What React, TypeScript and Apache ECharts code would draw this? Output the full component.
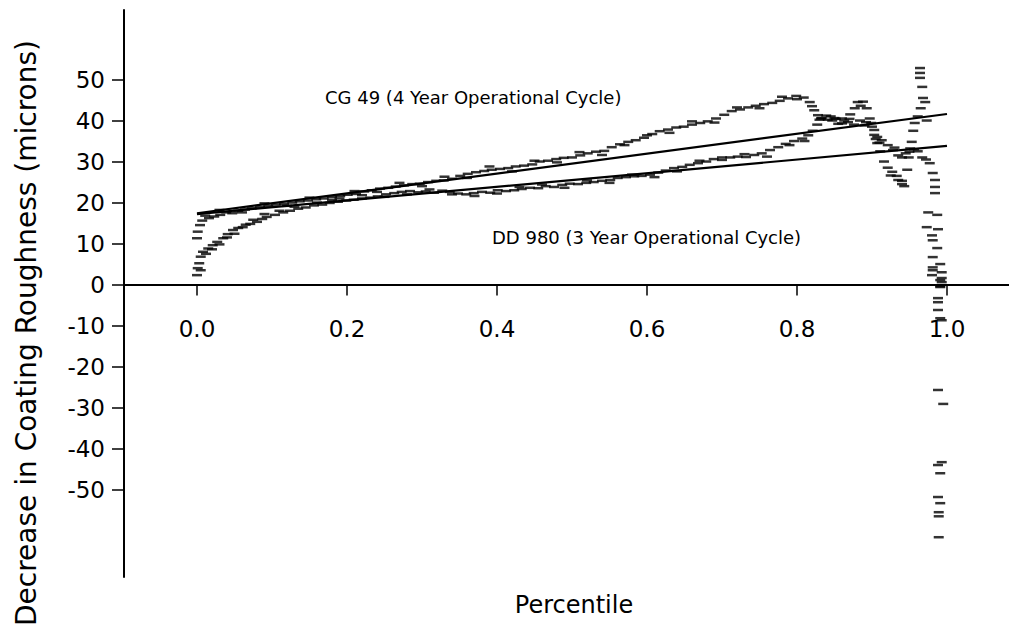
import React, { useEffect, useRef } from "react";
import * as echarts from "echarts";

// Percentile, decrease in roughness (microns)
const CG49_POINTS: [number, number][] = [
  [0.0, 11.3], [0.001, 12.9], [0.004, 14.5], [0.007, 15.6], [0.011, 16.8], [0.016, 16.2],
  [0.023, 16.6], [0.031, 17.0], [0.039, 17.6], [0.047, 17.4], [0.055, 18.0], [0.064, 18.3],
  [0.073, 18.6], [0.084, 18.9], [0.095, 19.2], [0.105, 19.5], [0.116, 19.7], [0.127, 20.0],
  [0.137, 20.3], [0.148, 20.5], [0.159, 20.8], [0.169, 21.0], [0.18, 21.3], [0.191, 21.6],
  [0.201, 21.9], [0.212, 22.1], [0.223, 22.7], [0.233, 23.0], [0.244, 23.4], [0.255, 23.6],
  [0.265, 23.9], [0.276, 24.2], [0.287, 24.5], [0.297, 24.6], [0.308, 25.0], [0.319, 25.3],
  [0.329, 25.4], [0.34, 25.8], [0.351, 26.5], [0.361, 27.0], [0.372, 27.4], [0.383, 27.7],
  [0.393, 28.0], [0.404, 28.2], [0.415, 28.4], [0.425, 28.8], [0.436, 29.0], [0.447, 29.3],
  [0.457, 30.0], [0.468, 30.2], [0.479, 30.6], [0.489, 30.9], [0.5, 31.0], [0.511, 31.5],
  [0.521, 32.0], [0.532, 32.4], [0.543, 32.6], [0.553, 33.5], [0.564, 34.2], [0.575, 34.8],
  [0.585, 35.2], [0.596, 35.8], [0.607, 36.7], [0.617, 37.4], [0.628, 37.8], [0.639, 38.3],
  [0.649, 38.5], [0.66, 39.0], [0.671, 39.4], [0.681, 39.8], [0.692, 40.5], [0.703, 41.4],
  [0.713, 42.3], [0.724, 42.7], [0.735, 43.2], [0.745, 43.6], [0.756, 44.0], [0.767, 44.3],
  [0.777, 44.8], [0.788, 45.4], [0.799, 46.0], [0.809, 45.6], [0.817, 44.5], [0.823, 42.5],
  [0.828, 41.3], [0.833, 40.6], [0.841, 40.2], [0.852, 40.4], [0.863, 40.0], [0.871, 41.5],
  [0.877, 43.0], [0.881, 44.5], [0.888, 44.6], [0.893, 43.0], [0.897, 40.5], [0.9, 38.5],
  [0.903, 36.5], [0.907, 34.5], [0.911, 32.5], [0.916, 30.0], [0.921, 28.5], [0.927, 27.5],
  [0.933, 26.5], [0.94, 25.3], [0.943, 24.0], [0.947, 28.0], [0.949, 31.0], [0.953, 34.8],
  [0.955, 37.5], [0.957, 39.4], [0.961, 41.0], [0.965, 43.0], [0.968, 45.5], [0.967, 48.2],
  [0.964, 50.4], [0.964, 51.6], [0.964, 52.8], [0.971, 44.5], [0.973, 40.0], [0.977, 29.6],
  [0.981, 27.2], [0.984, 25.5], [0.984, 23.8], [0.984, 22.3],
];

// second row of dashes read along the CG 49 band
const CG49_SPREAD: [number, number][] = [
  [0.03, 18.2], [0.06, 17.6], [0.09, 19.8], [0.12, 19.2], [0.15, 21.2], [0.18, 20.6],
  [0.21, 22.8], [0.24, 22.6], [0.27, 24.8], [0.3, 24.0], [0.33, 26.3], [0.36, 26.0],
  [0.39, 28.8], [0.42, 27.6], [0.45, 30.2], [0.48, 29.8], [0.51, 32.3], [0.54, 31.6],
  [0.57, 34.0], [0.6, 36.4], [0.63, 37.0], [0.66, 39.8], [0.69, 39.5], [0.72, 43.2],
  [0.75, 43.0], [0.78, 45.8], [0.8, 45.2], [0.82, 43.5], [0.845, 41.0], [0.86, 39.3],
  [0.885, 43.6], [0.905, 35.5], [0.925, 26.6], [0.935, 25.5], [0.94, 24.5],
];

const DD980_POINTS: [number, number][] = [
  [0.0, 2.3], [0.001, 4.0], [0.003, 5.2], [0.005, 6.8], [0.008, 8.0], [0.015, 8.8],
  [0.021, 9.6], [0.027, 10.4], [0.035, 11.3], [0.041, 12.3], [0.048, 13.3], [0.055, 13.8],
  [0.061, 14.0], [0.071, 14.8], [0.08, 15.3], [0.087, 16.0], [0.093, 16.5], [0.104, 17.0],
  [0.115, 17.6], [0.124, 18.0], [0.135, 18.5], [0.145, 18.8], [0.156, 19.3], [0.167, 19.5],
  [0.177, 19.9], [0.188, 20.2], [0.199, 20.5], [0.209, 20.7], [0.22, 21.0], [0.231, 21.2],
  [0.241, 21.5], [0.252, 22.0], [0.263, 22.3], [0.273, 22.6], [0.284, 22.8], [0.295, 22.5],
  [0.305, 22.7], [0.316, 22.4], [0.327, 22.9], [0.337, 22.6], [0.348, 22.2], [0.359, 22.0],
  [0.369, 22.3], [0.38, 22.6], [0.391, 22.4], [0.401, 23.0], [0.412, 22.8], [0.423, 23.0],
  [0.433, 23.3], [0.444, 23.6], [0.455, 23.5], [0.465, 24.0], [0.476, 23.8], [0.487, 24.3],
  [0.497, 24.6], [0.508, 24.5], [0.519, 24.8], [0.529, 25.0], [0.54, 25.3], [0.551, 25.5],
  [0.561, 26.0], [0.572, 26.2], [0.583, 26.4], [0.593, 26.5], [0.604, 26.8], [0.615, 27.3],
  [0.625, 27.8], [0.636, 28.4], [0.647, 28.7], [0.657, 29.2], [0.668, 29.6], [0.679, 30.0],
  [0.689, 30.6], [0.7, 31.0], [0.711, 31.0], [0.721, 31.2], [0.732, 31.1], [0.743, 31.6],
  [0.753, 32.0], [0.764, 32.8], [0.775, 33.5], [0.785, 34.3], [0.796, 35.0], [0.807, 35.6],
  [0.815, 36.4], [0.821, 37.5], [0.827, 39.0], [0.832, 40.5], [0.839, 41.2], [0.847, 40.0],
  [0.855, 39.2], [0.86, 40.5], [0.868, 39.6], [0.876, 39.0], [0.884, 40.0], [0.892, 39.6],
  [0.899, 39.4], [0.903, 37.7], [0.907, 36.0], [0.913, 35.2], [0.921, 34.0], [0.928, 32.8],
  [0.935, 31.5], [0.94, 31.0], [0.945, 32.0], [0.951, 33.2], [0.956, 33.0], [0.961, 32.5],
  [0.967, 31.0], [0.972, 30.5], [0.975, 17.6], [0.987, 17.0], [0.973, 14.0], [0.988, 13.5],
  [0.98, 12.0], [0.981, 10.8], [0.987, 8.9], [0.981, 6.7], [0.991, 5.0], [0.981, 3.5],
  [0.991, 1.1], [0.991, -0.6], [0.981, 4.2], [0.993, 3.0], [0.98, 2.3], [0.993, 1.6],
  [0.993, 0.6], [0.991, -0.4], [0.988, -3.3], [0.988, -4.3], [0.988, -6.2], [0.991, -8.2],
  [0.993, -8.7], [0.988, -25.7], [0.995, -29.1], [0.993, -43.3], [0.988, -44.0], [0.991, -46.0],
  [0.988, -51.8], [0.991, -53.3], [0.989, -55.5], [0.989, -56.5], [0.989, -61.6],
];

// second row of dashes read along the DD 980 band
const DD980_SPREAD: [number, number][] = [
  [0.005, 3.5], [0.012, 7.5], [0.02, 8.6], [0.03, 9.8], [0.04, 11.5], [0.05, 12.4],
  [0.065, 14.6], [0.075, 15.8], [0.09, 17.2], [0.11, 18.0], [0.13, 19.0], [0.16, 20.0],
  [0.19, 21.0], [0.22, 21.8], [0.25, 21.4], [0.28, 22.0], [0.31, 23.2], [0.34, 22.0],
  [0.37, 21.6], [0.4, 22.2], [0.43, 23.8], [0.46, 24.4], [0.49, 23.6], [0.52, 25.4],
  [0.55, 24.8], [0.58, 26.8], [0.61, 26.2], [0.64, 27.6], [0.67, 30.2], [0.7, 30.4],
  [0.73, 31.8], [0.76, 31.2], [0.79, 34.0], [0.81, 35.0], [0.83, 40.2], [0.85, 40.6],
  [0.87, 40.4], [0.89, 38.8], [0.91, 34.6], [0.93, 33.4], [0.95, 32.4],
];

const CG49_FIT: [number, number][] = [[0, 17.4], [1, 41.6]];
const DD980_FIT: [number, number][] = [[0, 17.2], [1, 33.8]];

const X_TICKS = [0, 0.2, 0.4, 0.6, 0.8, 1.0];
const Y_TICKS = [-50, -40, -30, -20, -10, 0, 10, 20, 30, 40, 50];

const LABEL_CG49 = "CG 49 (4 Year Operational Cycle)";
const LABEL_DD980 = "DD 980 (3 Year Operational Cycle)";
const X_TITLE = "Percentile";
const Y_TITLE = "Decrease in Coating Roughness (microns)";

const FONT = "DejaVu Sans";

export default function App() {
  const ref = useRef<HTMLDivElement>(null);

  useEffect(() => {
    if (!ref.current) return;
    const chart = echarts.init(ref.current, undefined, { renderer: "svg" });
    const dash = {
      type: "scatter" as const,
      symbol: "rect",
      symbolSize: [10, 2.5],
      itemStyle: { color: "#000" },
      silent: true,
    };
    chart.setOption({
      animation: false,
      backgroundColor: "#fff",
      grid: { left: 124, right: 0, top: 10, bottom: 65 },
      xAxis: {
        type: "value",
        min: -0.0973,
        max: 1.0827,
        offset: -292.5,
        splitLine: { show: false },
        axisLine: { onZero: false, lineStyle: { color: "#000", width: 2 } },
        axisTick: {
          customValues: X_TICKS,
          length: 11,
          inside: false,
          lineStyle: { color: "#000", width: 1.5 },
        },
        axisLabel: {
          customValues: X_TICKS,
          formatter: (v: number) => v.toFixed(1),
          color: "#000",
          fontFamily: FONT,
          fontSize: 23,
          margin: 33,
        },
      },
      yAxis: {
        type: "value",
        min: -71.3,
        max: 66.95,
        splitLine: { show: false },
        axisLine: { show: true, onZero: false, lineStyle: { color: "#000", width: 2 } },
        axisTick: {
          show: true,
          customValues: Y_TICKS,
          length: 12,
          lineStyle: { color: "#000", width: 1.5 },
        },
        axisLabel: {
          customValues: Y_TICKS,
          formatter: (v: number) => String(v),
          color: "#000",
          fontFamily: FONT,
          fontSize: 23,
          margin: 19,
        },
      },
      series: [
        { ...dash, name: "CG 49", data: CG49_POINTS },
        { ...dash, name: "CG 49 spread", data: CG49_SPREAD },
        { ...dash, name: "DD 980", data: DD980_POINTS },
        { ...dash, name: "DD 980 spread", data: DD980_SPREAD },
        {
          type: "line",
          name: "CG 49 fit",
          data: CG49_FIT,
          symbol: "none",
          lineStyle: { color: "#000", width: 2.2 },
          silent: true,
        },
        {
          type: "line",
          name: "DD 980 fit",
          data: DD980_FIT,
          symbol: "none",
          lineStyle: { color: "#000", width: 2.2 },
          silent: true,
        },
      ],
      graphic: [
        {
          type: "text",
          left: 325,
          top: 88,
          style: { text: LABEL_CG49, fontFamily: FONT, fontSize: 18, fill: "#000" },
        },
        {
          type: "text",
          left: 492,
          top: 228,
          style: { text: LABEL_DD980, fontFamily: FONT, fontSize: 18, fill: "#000" },
        },
        {
          type: "text",
          x: 574,
          y: 605,
          style: {
            text: X_TITLE,
            fontFamily: FONT,
            fontSize: 24,
            fill: "#000",
            align: "center",
            verticalAlign: "middle",
          },
        },
        {
          type: "text",
          x: 26,
          y: 333,
          rotation: Math.PI / 2,
          style: {
            text: Y_TITLE,
            fontFamily: FONT,
            fontSize: 28,
            fill: "#000",
            align: "center",
            verticalAlign: "middle",
          },
        },
      ],
    });
    return () => chart.dispose();
  }, []);

  return (
    <div
      ref={ref}
      style={{ position: "fixed", left: 0, top: 0, width: 1009, height: 642, background: "#fff" }}
    />
  );
}
